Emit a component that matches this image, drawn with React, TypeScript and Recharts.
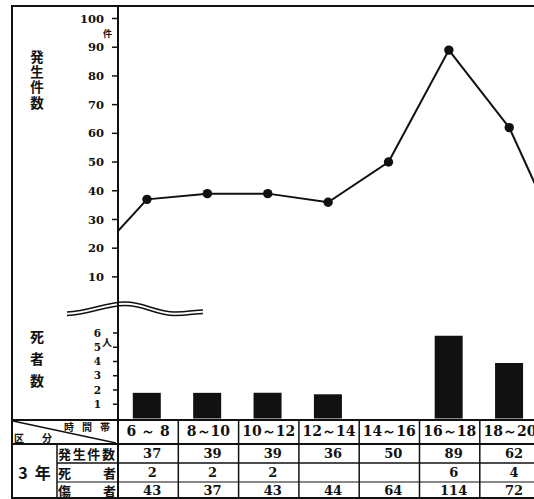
import { LineChart, Line, BarChart, Bar, XAxis, YAxis } from 'recharts';

// 時間帯 (time slots)
const slots = ['6 ～ 8', '8～10', '10～12', '12～14', '14～16', '16～18', '18～20'];
// 発生件数 per slot
const incidents = [37, 39, 39, 36, 50, 89, 62];
// neighbouring slots cut off by the page edge (4～6, 20～22)
const incidentsBefore = 14;
const incidentsAfter = 16;
// 死者 bar heights as drawn, and as printed in the table
const deathBars = [1.8, 1.8, 1.8, 1.7, 0, 5.8, 3.9];
const deaths = [2, 2, 2, null, null, 6, 4];
// 傷者
const injured = [43, 37, 43, 44, 64, 114, 72];

const countTicks = [10, 20, 30, 40, 50, 60, 70, 80, 90, 100];
const deathTicks = [1, 2, 3, 4, 5, 6];

const lineData = [
  { x: -1, v: incidentsBefore },
  ...incidents.map((v, i) => ({ x: i, v })),
  { x: slots.length, v: incidentsAfter },
];
const barData = deathBars.map((d, i) => ({ x: i, d }));

const INK = '#111';
const X_DOMAIN: [number, number] = [-0.48, 6.41];
const numFont = { fontFamily: '"DejaVu Serif", serif', fontWeight: 700 };
const jpFont = { fontFamily: '"Noto Sans CJK JP", sans-serif', fontWeight: 700 };

// table grid
const colW = 60.3;
const colLeft = (i: number) => 118 + colW * i;
const rowTop = [420, 444, 463, 482, 499];

function VText({ text, top, size, spacing }: { text: string; top: number; size: number; spacing: number }) {
  return (
    <div
      style={{
        position: 'absolute',
        left: 27,
        top,
        width: 20,
        ...jpFont,
        fontSize: size,
        lineHeight: '20px',
        letterSpacing: spacing,
        writingMode: 'vertical-rl',
      }}
    >
      {text}
    </div>
  );
}

function Cell({ left, top, width, height, children, style }: any) {
  return (
    <div
      style={{
        position: 'absolute',
        left,
        top,
        width,
        height,
        display: 'flex',
        alignItems: 'center',
        justifyContent: 'center',
        whiteSpace: 'nowrap',
        ...style,
      }}
    >
      {children}
    </div>
  );
}

export default function App() {
  const rows: (number | null)[][] = [incidents, deaths, injured];
  return (
    <div style={{ position: 'absolute', left: 0, top: 0, width: 534, height: 499, overflow: 'hidden', background: '#fff', color: INK }}>
      <div style={{ position: 'absolute', left: 0, top: 0 }}>
        <LineChart width={534} height={320} data={lineData} margin={{ top: 18.5, right: 0, bottom: 14.4, left: 0 }}>
          <XAxis type="number" dataKey="x" domain={X_DOMAIN} allowDataOverflow hide />
          <YAxis
            domain={[0, 100]}
            ticks={countTicks}
            interval={0}
            width={118}
            axisLine={false}
            tickLine={{ stroke: INK, strokeWidth: 1.5 }}
            tickSize={6}
            tickMargin={8}
            tick={{ fill: INK, fontSize: 11.5, ...numFont }}
          />
          <Line
            type="linear"
            dataKey="v"
            stroke={INK}
            strokeWidth={2}
            isAnimationActive={false}
            dot={(p: any) =>
              p.index > 0 && p.index < lineData.length - 1 ? (
                <circle key={p.index} cx={p.cx} cy={p.cy} r={4.7} fill={INK} />
              ) : (
                <g key={p.index} />
              )
            }
          />
        </LineChart>
      </div>

      <div style={{ position: 'absolute', left: 0, top: 320 }}>
        <BarChart width={534} height={100} data={barData} margin={{ top: 13, right: 0, bottom: 1.5, left: 0 }}>
          <XAxis type="number" dataKey="x" domain={X_DOMAIN} allowDataOverflow hide />
          <YAxis
            domain={[0, 6]}
            ticks={deathTicks}
            interval={0}
            width={118}
            axisLine={false}
            tickLine={{ stroke: INK, strokeWidth: 1.5 }}
            tickSize={5}
            tickMargin={12}
            tick={{ fill: INK, fontSize: 10.5, ...numFont }}
          />
          <Bar dataKey="d" fill={INK} barSize={28} isAnimationActive={false} />
        </BarChart>
      </div>

      <VText text="発生件数" top={50} size={13.5} spacing={1.8} />
      <VText text="死者数" top={330} size={14} spacing={8} />
      <div style={{ position: 'absolute', left: 103, top: 27, ...jpFont, fontSize: 9 }}>件</div>
      <div style={{ position: 'absolute', left: 102, top: 334, ...jpFont, fontSize: 10 }}>人</div>

      {/* table header */}
      <div style={{ position: 'absolute', left: 64, top: 419, ...jpFont, fontSize: 10, letterSpacing: 8 }}>時間帯</div>
      <div style={{ position: 'absolute', left: 14, top: 430, ...jpFont, fontSize: 10, letterSpacing: 18 }}>区分</div>
      {slots.map((s, i) => (
        <Cell key={s} left={colLeft(i)} top={rowTop[0]} width={colW} height={24} style={{ ...numFont, fontSize: 14 }}>
          {s}
        </Cell>
      ))}
      <Cell left={12} top={444} width={45} height={55} style={{ ...jpFont, fontSize: 16, gap: 7 }}>
        <span>3</span>
        <span>年</span>
      </Cell>
      {['発生件数', '死者', '傷者'].map((label, r) => (
        <Cell
          key={label}
          left={58}
          top={rowTop[r + 1]}
          width={58}
          height={rowTop[r + 2] - rowTop[r + 1]}
          style={{ ...jpFont, fontSize: 13, justifyContent: 'space-between', letterSpacing: label.length > 2 ? 1 : 0 }}
        >
          {label.split('').map((c, k) => (
            <span key={k}>{c}</span>
          ))}
        </Cell>
      ))}
      {rows.map((row, r) =>
        row.map((v, i) => (
          <Cell
            key={`${r}-${i}`}
            left={colLeft(i) + 4}
            top={rowTop[r + 1]}
            width={colW}
            height={rowTop[r + 2] - rowTop[r + 1]}
            style={{ ...numFont, fontSize: 13 }}
          >
            {v ?? ''}
          </Cell>
        )),
      )}

      <svg width={534} height={499} style={{ position: 'absolute', left: 0, top: 0, pointerEvents: 'none' }}>
        <g stroke={INK} fill="none">
          <line x1={12} y1={6} x2={534} y2={6} strokeWidth={2} />
          <line x1={12} y1={5} x2={12} y2={499} strokeWidth={2} />
          <line x1={118} y1={5} x2={118} y2={499} strokeWidth={2} />
          <path d="M67,312 C90,311 105,302 125,302 C145,302 155,312 175,312 C188,312 195,310 203,310" strokeWidth={1.6} />
          <path d="M67,315.5 C90,314.5 105,305.5 125,305.5 C145,305.5 155,315.5 175,315.5 C188,315.5 195,313.5 203,313.5" strokeWidth={1.6} />
          <line x1={12} y1={420} x2={534} y2={420} strokeWidth={2} />
          <line x1={12} y1={444} x2={534} y2={444} strokeWidth={2} />
          <line x1={57} y1={463} x2={534} y2={463} strokeWidth={1.5} />
          <line x1={57} y1={482} x2={534} y2={482} strokeWidth={1.2} />
          <line x1={12} y1={498} x2={534} y2={498} strokeWidth={2} />
          <line x1={57} y1={444} x2={57} y2={499} strokeWidth={1.5} />
          {slots.map((s, i) => (
            <line key={s} x1={colLeft(i + 1)} y1={420} x2={colLeft(i + 1)} y2={499} strokeWidth={1.5} />
          ))}
          <line x1={13} y1={421} x2={116} y2={443} strokeWidth={1.3} />
        </g>
      </svg>
    </div>
  );
}
